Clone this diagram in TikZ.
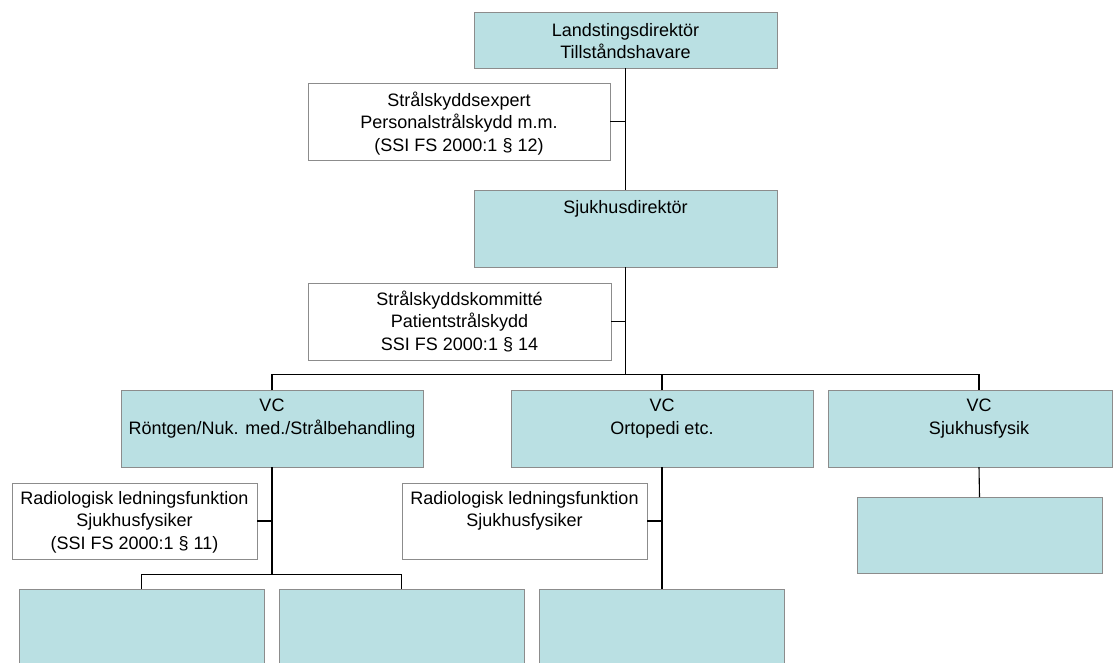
\documentclass[tikz,border=0pt]{standalone}
\usepackage{fontspec}
\setmainfont{Liberation Sans}
\definecolor{boxfill}{RGB}{186,224,227}
\definecolor{boxline}{RGB}{140,140,140}
\begin{document}
\begin{tikzpicture}[x=1pt,y=-1pt,
  box/.style={draw=boxline, line width=1pt, fill=boxfill, rectangle, inner sep=0pt, outer sep=0pt, anchor=north west},
  wbox/.style={box, fill=white},
  lbl/.style={anchor=north, inner sep=0pt, outer sep=0pt, align=center, font=\fontsize{18}{22.5}\selectfont, execute at begin node=\strut},
  conn/.style={draw=black, line width=1.1pt}]
\useasboundingbox (0,0) rectangle (1113,662);
\clip (0,0) rectangle (1113,662);
% boxes
\node[box, minimum width=303pt, minimum height=56pt] (top) at (474,12) {};
\node[wbox, minimum width=302pt, minimum height=77pt] (expert) at (308,83) {};
\node[box, minimum width=303pt, minimum height=77pt] (sjd) at (474,190) {};
\node[wbox, minimum width=303pt, minimum height=77pt] (komm) at (308,283) {};
\node[box, minimum width=302pt, minimum height=77pt] (vc1) at (121,390) {};
\node[box, minimum width=302pt, minimum height=77pt] (vc2) at (511,390) {};
\node[box, minimum width=284pt, minimum height=77pt] (vc3) at (828,390) {};
\node[wbox, minimum width=245pt, minimum height=76pt] (rad1) at (12,483) {};
\node[wbox, minimum width=245pt, minimum height=76pt] (rad2) at (402,483) {};
\node[box, minimum width=245pt, minimum height=76pt] (phys) at (857,497) {};
\node[box, minimum width=245pt, minimum height=100pt] (b1) at (19,589) {};
\node[box, minimum width=245pt, minimum height=100pt] (b2) at (279,589) {};
\node[box, minimum width=245pt, minimum height=100pt] (b3) at (539,589) {};
% labels
\node[lbl] (ttop) at ([yshift=-11pt]top.north) {Landstingsdirektör\\Tillståndshavare};
\node[lbl] (texpert) at ([yshift=-8.5pt]expert.north) {Strålskyddsexpert\\Personalstrålskydd m.m.\\(SSI FS 2000:1 § 12)};
\node[lbl] (tsjd) at ([yshift=-7.5pt]sjd.north) {Sjukhusdirektör};
\node[lbl] (tkomm) at ([yshift=-7.5pt]komm.north) {Strålskyddskommitté\\Patientstrålskydd\\SSI FS 2000:1 § 14};
\coordinate (c3) at (979,390);
\coordinate (c3b) at (979,467);
\node[lbl] (tvc1) at ([yshift=-9pt]vc1.north) {VC\\Röntgen/Nuk. med./Strålbehandling};
\node[lbl] (tvc2) at ([yshift=-9pt]vc2.north) {VC\\Ortopedi etc.};
\node[lbl] (tvc3) at ([yshift=-9pt]c3) {VC\\Sjukhusfysik};
\node[lbl] (trad1) at ([yshift=-8pt]rad1.north) {Radiologisk ledningsfunktion\\Sjukhusfysiker\\(SSI FS 2000:1 § 11)};
\node[lbl] (trad2) at ([yshift=-8pt]rad2.north) {Radiologisk ledningsfunktion\\Sjukhusfysiker};
% connectors
\coordinate (bar) at (0,374.5);
\coordinate (bar2) at (0,574.5);
\draw[conn] (top.south) -- (sjd.north);
\draw[conn] (expert.east) -- (expert.east -| top.south);
\draw[conn] (sjd.south) -- (sjd.south |- bar);
\draw[conn] (komm.east) -- (komm.east -| sjd.south);
\draw[conn] (vc1.north) -- (vc1.north |- bar) -- (c3 |- bar) -- (c3);
\draw[conn] (vc2.north) -- (vc2.north |- bar);
\draw[conn] (vc1.south) -- (vc1.south |- bar2);
\draw[conn] (b1.north) -- (b1.north |- bar2) -- (b2.north |- bar2) -- (b2.north);
\draw[conn] (rad1.east) -- (rad1.east -| vc1.south);
\draw[conn] (vc2.south) -- (vc2.south |- b3.north);
\draw[conn] (rad2.east) -- (rad2.east -| vc2.south);
\draw[conn] (c3b) -- (phys.north);
\end{tikzpicture}
\end{document}
